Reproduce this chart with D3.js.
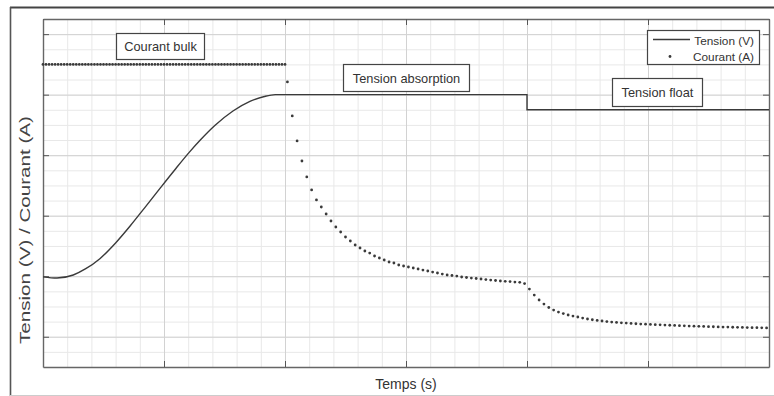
<!DOCTYPE html>
<html>
<head>
<meta charset="utf-8">
<script src="https://cdn.jsdelivr.net/npm/d3@7"></script>
<style>
  body { margin: 0; background: #fff; }
  text { font-family: "Liberation Sans", Arial, sans-serif; fill: #333; }
</style>
</head>
<body>
<svg id="chart" width="774" height="396"></svg>
<script>
// axis ticks (the figure shows no numbers on them)
let xTicks = [0, 1, 2, 3, 4, 5, 6]
let yTicks = [0, 1, 2, 3, 4, 5]

// tension during the bulk phase (S shaped rise)
let riseTime = [0, 0.116, 0.25, 0.35, 0.47, 0.60, 0.72, 0.84, 0.97, 1.09, 1.21, 1.30, 1.42, 1.57, 1.71, 1.83, 1.92, 2.0]
let riseVolt = [0.99, 0.97, 1.02, 1.12, 1.29, 1.55, 1.83, 2.13, 2.46, 2.76, 3.05, 3.25, 3.49, 3.73, 3.89, 3.97, 4.0, 4.0]

// tension after bulk: absorption then float
let stepTime = [2.0, 4.0, 4.0, 6.0]
let stepVolt = [4.0, 4.0, 3.75, 3.75]

// current during bulk : constant
let bulkTime = d3.range(0, 2.0001, 0.025)
let bulkCurrent = 4.5

// current sampled every 0.04 s starting at t = 2.02
let decayStart = 2.02, decayStep = 0.04
let decayCurrent = [
  4.210, 3.648, 3.235, 2.904, 2.640, 2.425, 2.260, 2.144, 2.028, 1.912,
  1.813, 1.731, 1.648, 1.582, 1.516, 1.466, 1.417, 1.383, 1.334, 1.301,
  1.268, 1.235, 1.218, 1.185, 1.169, 1.152, 1.136, 1.119, 1.102, 1.086,
  1.069, 1.053, 1.036, 1.020, 1.012, 1.003, 0.987, 0.979, 0.970, 0.962,
  0.954, 0.945, 0.937, 0.929, 0.921, 0.916, 0.911, 0.904, 0.899, 0.879,
  // float phase
  0.788, 0.689, 0.607, 0.540, 0.483, 0.441, 0.408, 0.383, 0.359, 0.342,
  0.326, 0.309, 0.293, 0.281, 0.269, 0.260, 0.251, 0.243, 0.236, 0.230,
  0.225, 0.220, 0.215, 0.210, 0.207, 0.203, 0.200, 0.197, 0.193, 0.190,
  0.187, 0.183, 0.180, 0.177, 0.175, 0.172, 0.170, 0.167, 0.165, 0.162,
  0.160, 0.159, 0.157, 0.155, 0.154, 0.152, 0.150, 0.149, 0.147, 0.146
]

let phaseLabels = ["Courant bulk", "Tension absorption", "Tension float"]
let legendLabels = ["Tension (V)", "Courant (A)"]

// plot area edges (px)
let pLeft = 43, pRight = 769, pTop = 19, pBottom = 367
let ink = "#3a3a3a"

let svg = d3.select("#chart")

let x = d3.scaleLinear().domain([0, 6]).range([pLeft, pRight])
let y = d3.scaleLinear().domain([-0.5, 5.25]).range([pBottom, pTop])

// outer frame of the figure
svg.append("line").attr("x1", 10).attr("x2", 774).attr("y1", 7.5).attr("y2", 7.5)
   .attr("stroke", "#444").attr("stroke-width", 2)
svg.append("line").attr("x1", 10.5).attr("x2", 10.5).attr("y1", 7).attr("y2", 396)
   .attr("stroke", "#555").attr("stroke-width", 1.6)
svg.append("line").attr("x1", 10).attr("x2", 774).attr("y1", 395.5).attr("y2", 395.5)
   .attr("stroke", "#ccc").attr("stroke-width", 1)

// grid - minor then major
let minorX = d3.range(0, 6.001, 0.2)
let minorY = d3.range(-0.5, 5.2501, 0.25)

function grid(g, vals, color, vertical) {
  let ax = vertical
    ? d3.axisBottom(x).tickValues(vals).tickSize(-(pBottom - pTop)).tickFormat("")
    : d3.axisLeft(y).tickValues(vals).tickSize(-(pRight - pLeft)).tickFormat("")
  g.call(ax)
  g.select(".domain").remove()
  g.selectAll("line").attr("stroke", color)
}
svg.append("g").attr("transform", "translate(0," + pBottom + ")").call(grid, minorX, "#e8e8e8", true)
svg.append("g").attr("transform", "translate(" + pLeft + ",0)").call(grid, minorY, "#e8e8e8", false)
svg.append("g").attr("transform", "translate(0," + pBottom + ")").call(grid, xTicks, "#d2d2d2", true)
svg.append("g").attr("transform", "translate(" + pLeft + ",0)").call(grid, yTicks, "#d2d2d2", false)

// box + inward ticks
function box(g, ax) {
  g.call(ax.tickSize(-6).tickSizeOuter(0).tickFormat(""))
  g.select(".domain").attr("stroke", "#666").attr("stroke-width", 1.4)
  g.selectAll(".tick line").attr("stroke", "#555")
}
svg.append("g").attr("transform", "translate(0," + pBottom + ")").call(box, d3.axisBottom(x).tickValues(xTicks))
svg.append("g").attr("transform", "translate(0," + pTop + ")").call(box, d3.axisTop(x).tickValues(xTicks))
svg.append("g").attr("transform", "translate(" + pLeft + ",0)").call(box, d3.axisLeft(y).tickValues(yTicks))
svg.append("g").attr("transform", "translate(" + pRight + ",0)").call(box, d3.axisRight(y).tickValues(yTicks))

// tension line
svg.append("path")
   .datum(riseTime.map((t, i) => [t, riseVolt[i]]))
   .attr("d", d3.line().x(d => x(d[0])).y(d => y(d[1])).curve(d3.curveMonotoneX))
   .attr("fill", "none").attr("stroke", ink).attr("stroke-width", 1.4)
svg.append("path")
   .datum(stepTime.map((t, i) => [t, stepVolt[i]]))
   .attr("d", d3.line().x(d => x(d[0])).y(d => y(d[1])))
   .attr("fill", "none").attr("stroke", ink).attr("stroke-width", 1.4)

// current dots
let dots = bulkTime.map(t => [t, bulkCurrent])
  .concat(decayCurrent.map((v, i) => [decayStart + i * decayStep, v]))
svg.append("g").selectAll("circle")
   .data(dots)
   .enter()
   .append("circle")
   .attr("cx", d => x(d[0]))
   .attr("cy", d => y(d[1]))
   .attr("r", 1.4)
   .attr("fill", ink)

// phase annotations
let boxes = [
  { x: 116, y: 33, w: 88, h: 26 },
  { x: 343, y: 64, w: 126, h: 27 },
  { x: 612, y: 78, w: 90, h: 28 }
]
boxes.forEach((b, i) => {
  svg.append("rect").attr("x", b.x + 0.5).attr("y", b.y + 0.5).attr("width", b.w).attr("height", b.h)
     .attr("fill", "#fff").attr("stroke", "#444").attr("stroke-width", 1.2)
  svg.append("text").attr("x", b.x + b.w / 2 + 0.5).attr("y", b.y + b.h / 2 + 5)
     .attr("text-anchor", "middle").attr("font-size", 12.8).text(phaseLabels[i])
})

// legend
let lg = svg.append("g")
lg.append("rect").attr("x", 647.5).attr("y", 30.5).attr("width", 112).attr("height", 34)
  .attr("fill", "#fff").attr("stroke", "#444").attr("stroke-width", 1.2)
lg.append("line").attr("x1", 653).attr("x2", 690).attr("y1", 39.5).attr("y2", 39.5)
  .attr("stroke", ink).attr("stroke-width", 1.4)
lg.append("circle").attr("cx", 670).attr("cy", 56.5).attr("r", 1.4).attr("fill", ink)
lg.selectAll("text.lab")
  .data(legendLabels)
  .enter()
  .append("text")
  .attr("x", 754)
  .attr("y", (d, i) => 45 + i * 16)
  .attr("text-anchor", "end")
  .attr("font-size", 11.8)
  .text(d => d)

// axis labels
svg.append("text").attr("x", 406).attr("y", 389).attr("text-anchor", "middle")
   .attr("font-size", 14).text("Temps (s)")
svg.append("text")
   .attr("transform", "translate(30,230) rotate(-90)")
   .attr("text-anchor", "middle")
   .attr("font-size", 15)
   .attr("textLength", 228)
   .attr("lengthAdjust", "spacingAndGlyphs")
   .style("fill", "#444")
   .text("Tension (V) / Courant (A)")
</script>
</body>
</html>
